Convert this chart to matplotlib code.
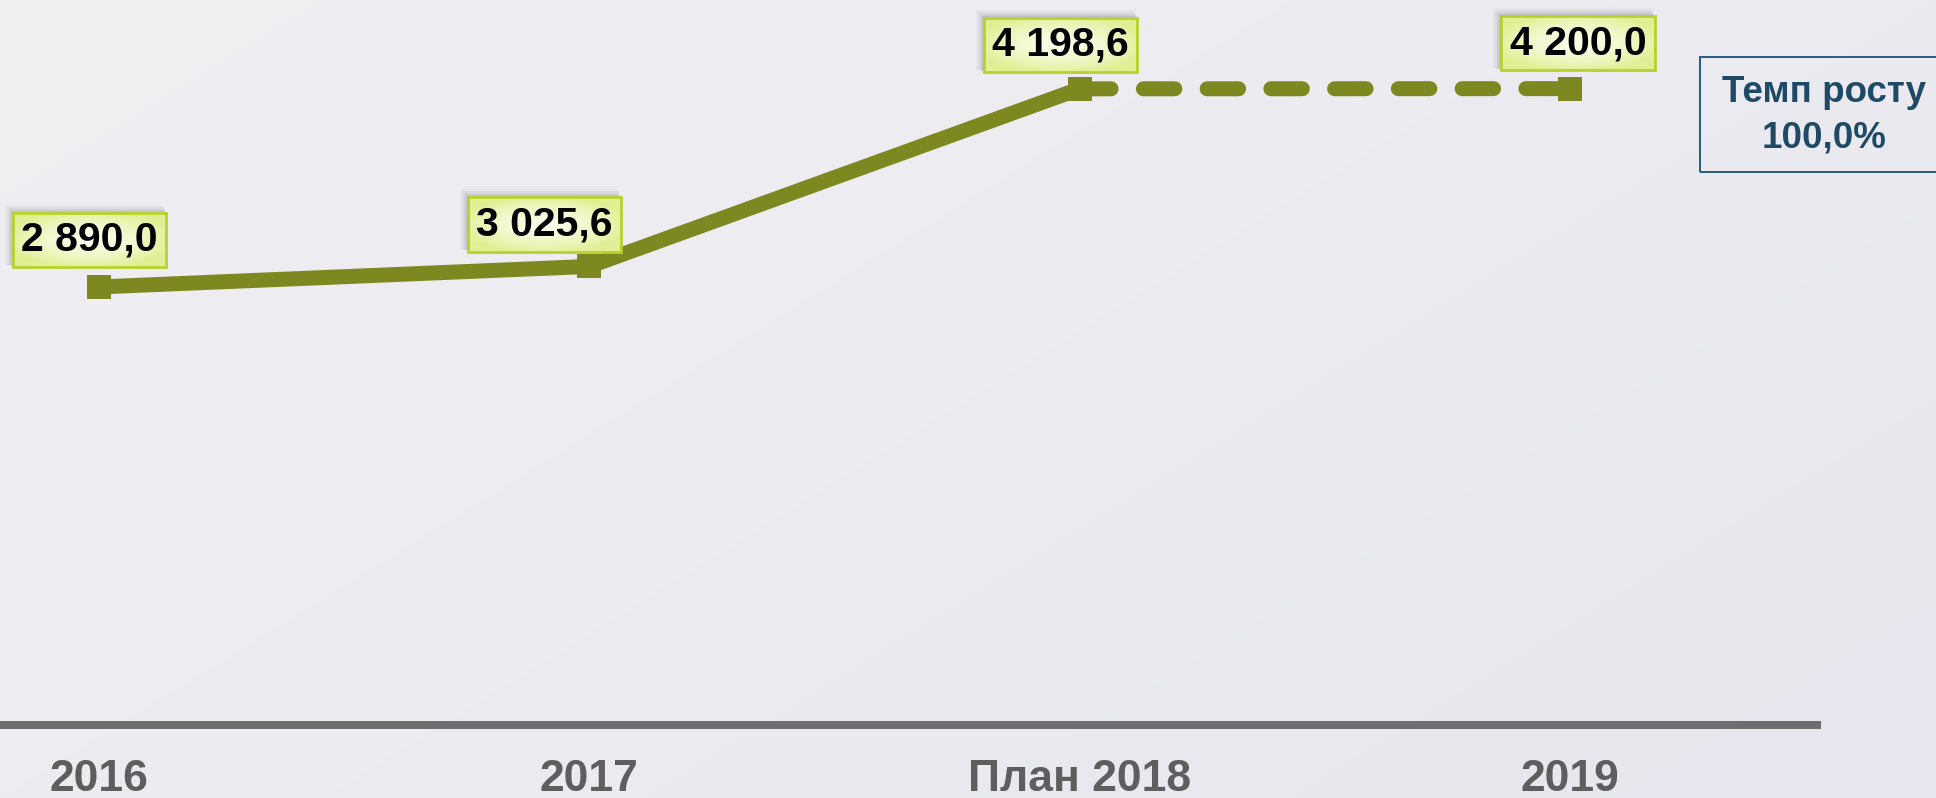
import numpy as np
import matplotlib
matplotlib.use("Agg")
import matplotlib.pyplot as plt
from matplotlib.patches import Rectangle

# ---- data ----
categories = ["2016", "2017", "План 2018", "2019"]
values = [2890.0, 3025.6, 4198.6, 4200.0]
fact_count = 3  # first three points joined by a solid line, rest dashed
note_lines = ["Темп росту", "100,0%"]

W, H = 1936, 798
DPI = 100
plt.rcParams['font.family'] = ['Liberation Sans', 'DejaVu Sans']

fig = plt.figure(figsize=(W / DPI, H / DPI), dpi=DPI)

# background gradient
yy, xx = np.mgrid[0:H, 0:W]
t = (xx / W * 0.6 + yy / H * 0.4)
c0 = np.array([0xf0, 0xf0, 0xf3]) / 255.0
c1 = np.array([0xe6, 0xe6, 0xee]) / 255.0
grad = c0[None, None, :] * (1 - t[..., None]) + c1[None, None, :] * t[..., None]
fig.figimage(grad[::-1], xo=0, yo=0, zorder=-10, origin='lower')

axis_px = 724.5
ax = fig.add_axes([0, (H - axis_px) / H, 1, axis_px / H])
ax.set_facecolor('none')
ax.set_zorder(1)

px_per_cat = 490.4
x0 = -98.8 / px_per_cat
x1 = x0 + W / px_per_cat
ylim = (0, axis_px / 0.1514)
ax.set_xlim(x0, x1)
ax.set_ylim(*ylim)

line_color = '#7e8820'
lw_pt = 15 * 72 / DPI
xs = np.arange(len(categories))
ax.plot(xs[:fact_count], values[:fact_count], color=line_color, lw=lw_pt,
        solid_capstyle='butt', zorder=3)
ax.plot(xs[fact_count - 1:], values[fact_count - 1:], color=line_color, lw=lw_pt,
        dashes=(2.1, 2.15), dash_capstyle='round', zorder=3)
ax.plot(xs, values, linestyle='none', marker='s', markersize=24 * 72 / DPI,
        color=line_color, markeredgewidth=0, zorder=4)

# axis styling
for s in ['top', 'left', 'right']:
    ax.spines[s].set_visible(False)
ax.spines['bottom'].set_color('#6e6e6e')
ax.spines['bottom'].set_linewidth(8 * 72 / DPI)
ax.spines['bottom'].set_bounds(x0, x0 + 1817 / px_per_cat)
ax.set_yticks([])
ax.set_xticks(xs)
ax.set_xticklabels(categories, fontsize=32, fontweight='bold', color='#5e5e5e')
ax.tick_params(axis='x', length=0, pad=25)


def fmt(v):
    return f"{v:,.1f}".replace(",", " ").replace(".", ",")


offsets = [(-9.5, 47), (-45, 42), (-19, 44), (8, 45.5)]
anns = []
for x, v, (dx, dy) in zip(xs, values, offsets):
    a = ax.annotate(fmt(v), (x, v), xytext=(dx, dy), textcoords='offset pixels',
                    ha='center', va='center', fontsize=29.5, fontweight='bold', color='black',
                    bbox=dict(boxstyle='square,pad=0.2', fc='none', ec='#b7d22c', lw=2),
                    zorder=6)
    anns.append(a)

# gradient fills and soft shadows for the label boxes
fig.canvas.draw()
renderer = fig.canvas.get_renderer()
inv = ax.transData.inverted()
gh, gw = 60, 160
vv, uu = np.mgrid[0:gh, 0:gw]
uu = (uu / (gw - 1) - 0.5) * 2
vv = (vv / (gh - 1) - 0.5) * 2
d = np.clip(np.sqrt(uu ** 2 * 0.8 + vv ** 2 * 0.9), 0, 1) ** 1.6
cc = np.array([0xfa, 0xfd, 0xea]) / 255.0
ce = np.array([0xe0, 0xf0, 0x94]) / 255.0
box_img = cc[None, None, :] * (1 - d[..., None]) + ce[None, None, :] * d[..., None]
for a in anns:
    bb = a.get_bbox_patch().get_window_extent(renderer)
    (xa, ya), (xb, yb) = inv.transform([[bb.x0, bb.y0], [bb.x1, bb.y1]])
    ax.imshow(box_img, extent=[xa, xb, ya, yb], aspect='auto', zorder=5.5,
              interpolation='bilinear')
    for k, al in [(2, 0.12), (4, 0.10), (6, 0.07), (8, 0.05)]:
        (sa, sb), (sc, sd) = inv.transform([[bb.x0 - k, bb.y0 + k * 0.3],
                                            [bb.x1 - k * 0.3, bb.y1 + k]])
        ax.add_patch(Rectangle((sa, sb), sc - sa, sd - sb, fc='#60606a', ec='none',
                               alpha=al, zorder=5))
ax.set_xlim(x0, x1)
ax.set_ylim(*ylim)

# note box
rect = Rectangle((1700, H - 172), 300, 115, transform=None, fill=False,
                 ec='#2e5f82', lw=2 * 72 / DPI, zorder=5)
fig.add_artist(rect)
fig.text(1824 / W, 1 - 93 / H, note_lines[0], ha='center', va='center',
         fontsize=26.5, fontweight='bold', color='#1f4a66')
fig.text(1824 / W, 1 - 138 / H, note_lines[1], ha='center', va='center',
         fontsize=26.5, fontweight='bold', color='#1f4a66')

fig.savefig('out.png', dpi=DPI)
